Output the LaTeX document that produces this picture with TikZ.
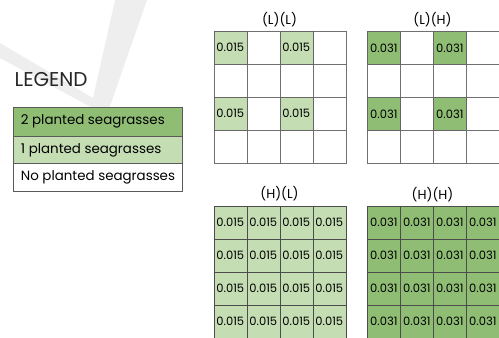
\documentclass[tikz,border=0pt]{standalone}
\usepackage{fontspec}
\setmainfont{Poppins}
\definecolor{lightg}{HTML}{C4DDB3}
\definecolor{darkg}{HTML}{8FBD74}
\definecolor{gridc}{HTML}{707070}
\definecolor{wmark}{HTML}{EEEEEE}
\definecolor{legline}{HTML}{5A5A5A}
\begin{document}
\begin{tikzpicture}[x=1pt,y=-1pt,
  cell/.style={draw=gridc, line width=0.6pt, minimum width=33pt, minimum height=33pt,
    inner sep=0pt, anchor=north west, font=\fontsize{11.5}{12}\selectfont},
  hcell/.style={cell, draw=black!70},
  ttl/.style={font=\fontsize{13}{14}\selectfont, inner sep=0pt},
  legrow/.style={draw=legline, line width=0.7pt, minimum width=169pt, minimum height=28pt,
    inner sep=0pt, anchor=north west},
  legtxt/.style={anchor=west, inner sep=0pt, font=\fontsize{13.4}{14}\selectfont}]
\useasboundingbox (0,0) rectangle (499,338);
% watermark
\fill[wmark] (0,43) -- (93,98) -- (115,0) -- (147,0) -- (108,112) -- (100,112) -- (0,58) -- cycle;
% legend
\node[font=\fontsize{20}{21}\selectfont, anchor=west, inner sep=0pt, text=black!85] (legend) at (14.5,80) {LEGEND};
\node[legrow, fill=darkg, minimum height=29.3pt] (leg2) at (12.7,106.7) {};
\node[legrow, fill=lightg, minimum height=27.3pt] (leg1) at (12.7,136) {};
\node[legrow, fill=white, minimum height=27.7pt] (leg0) at (12.7,163.3) {};
\node[legtxt] (leg2t) at ([xshift=8pt]leg2.west) {2 planted seagrasses};
\node[legtxt] (leg1t) at ([xshift=8pt]leg1.west) {1 planted seagrasses};
\node[legtxt] (leg0t) at ([xshift=8pt]leg0.west) {No planted seagrasses};
% titles
\node[ttl] (tLL) at (279.5,20) {(L)(L)};
\node[ttl] (tLH) at (432.5,20) {(L)(H)};
\node[ttl] (tHL) at (279.5,194) {(H)(L)};
\node[ttl] (tHH) at (432.5,195) {(H)(H)};
% grids L
\foreach \r in {0,...,3} {
  \foreach \c in {0,...,3} {
    \pgfmathtruncatemacro{\g}{(mod(\r,2)==0)&&(mod(\c,2)==0)}
    \ifnum\g=0
      \node[cell] (LL-\r-\c) at ({213.5+33*\c},{31+33*\r}) {};
      \node[cell] (LH-\r-\c) at ({367+33*\c},{31+33*\r}) {};
    \fi
  }
}
\foreach \r in {0,2} {
  \foreach \c in {0,2} {
    \node[cell, draw=black!60, fill=lightg] (LL-\r-\c) at ({213.5+33*\c},{31+33*\r}) {0.015};
    \node[cell, draw=black!60, fill=darkg] (LH-\r-\c) at ({367+33*\c},{31+33*\r}) {0.031};
  }
}
% grids H
\foreach \r in {0,...,3} {
  \foreach \c in {0,...,3} {
    \node[hcell, fill=lightg] (HL-\r-\c) at ({213.5+33*\c},{205.5+33*\r}) {0.015};
    \node[hcell, fill=darkg] (HH-\r-\c) at ({367+33*\c},{205.5+33*\r}) {0.031};
  }
}
\end{tikzpicture}
\end{document}
